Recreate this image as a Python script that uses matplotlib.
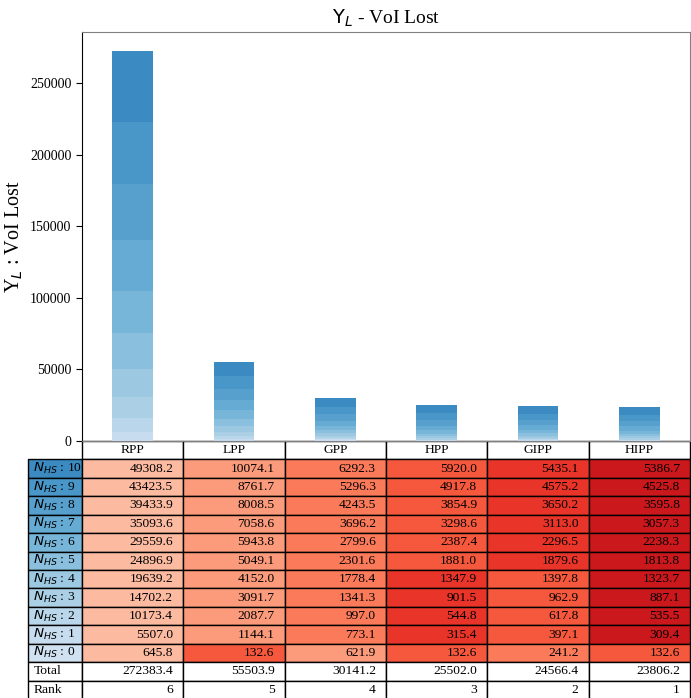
"""
Stacked VoI-lost bars with the per-N_HS breakdown table underneath.
"""

import numpy as np
import matplotlib
matplotlib.use('Agg')  # Non-interactive backend
import matplotlib.pyplot as plt
from matplotlib.table import Table

plt.rcParams['font.family'] = ['Liberation Serif', 'DejaVu Serif']
plt.rcParams['mathtext.fontset'] = 'dejavusans'

columns = ['RPP', 'LPP', 'GPP', 'HPP', 'GIPP', 'HIPP']
nhs_levels = [10, 9, 8, 7, 6, 5, 4, 3, 2, 1, 0]

# rows follow nhs_levels (N_HS = 10 at the top of the table)
vol_lost = [
    [49308.2, 10074.1, 6292.3, 5920.0, 5435.1, 5386.7],
    [43423.5, 8761.7, 5296.3, 4917.8, 4575.2, 4525.8],
    [39433.9, 8008.5, 4243.5, 3854.9, 3650.2, 3595.8],
    [35093.6, 7058.6, 3696.2, 3298.6, 3113.0, 3057.3],
    [29559.6, 5943.8, 2799.6, 2387.4, 2296.5, 2238.3],
    [24896.9, 5049.1, 2301.6, 1881.0, 1879.6, 1813.8],
    [19639.2, 4152.0, 1778.4, 1347.9, 1397.8, 1323.7],
    [14702.2, 3091.7, 1341.3, 901.5, 962.9, 887.1],
    [10173.4, 2087.7, 997.0, 544.8, 617.8, 535.5],
    [5507.0, 1144.1, 773.1, 315.4, 397.1, 309.4],
    [645.8, 132.6, 621.9, 132.6, 241.2, 132.6],
]
totals = [272383.4, 55503.9, 30141.2, 25502.0, 24566.4, 23806.2]
ranks = [6, 5, 4, 3, 2, 1]

data = np.array(vol_lost)
n_rows, n_cols = data.shape

# blue shades per N_HS level (light at N_HS=0, dark at N_HS=10)
blues = plt.cm.Blues(np.linspace(0.2, 0.65, n_rows))[::-1]
# red shades per rank within a row (lowest value -> darkest)
reds = plt.cm.Reds(np.linspace(0.75, 0.25, n_cols))

fig = plt.figure(figsize=(6.91, 6.98), dpi=100)
ax = fig.add_axes([82 / 691, 1 - 441 / 698, 608 / 691, 409 / 698])

x = np.arange(n_cols) + 0.5
bottom = np.zeros(n_cols)
for i in range(n_rows - 1, -1, -1):
    ax.bar(x, data[i], 0.4, bottom=bottom, color=blues[i], linewidth=0)
    bottom += data[i]

ax.set_xlim(0, n_cols)
ax.set_xticks([])
ax.tick_params(axis='y', labelsize=10, length=4)
ax.set_ylabel(r'Y$_L$ : VoI Lost', fontsize=14.5)
ax.set_title(r'$\mathrm{Y}_L$ - VoI Lost', fontsize=14)
for side in ['top', 'bottom', 'right']:
    ax.spines[side].set_color('gray')

# table contents
cell_text = [[f'{v:.1f}' for v in row] for row in vol_lost]
cell_text.append([f'{t:.1f}' for t in totals])
cell_text.append([str(r) for r in ranks])

cell_colours = []
for row in data:
    rank = (row[None, :] <= row[:, None]).sum(axis=1)  # ties share the max rank
    cell_colours.append([reds[r - 1] for r in rank])
cell_colours.append(['white'] * n_cols)
cell_colours.append(['white'] * n_cols)

row_labels = [rf'$N_{{HS}}$ : {n}' for n in nhs_levels] + ['Total', 'Rank']
row_colours = list(blues) + ['white', 'white']

label_w = 54 / 608
tbl_h = 258 / 409
cell_h = tbl_h / (len(row_labels) + 1)

# bbox only covers the data cells; the label column hangs off to the left
tbl = Table(ax, bbox=[0, -tbl_h, 1, tbl_h])
for c, name in enumerate(columns):
    tbl.add_cell(0, c, width=1 / n_cols, height=cell_h, text=name,
                 loc='center', facecolor='white')
for r, label in enumerate(row_labels):
    tbl.add_cell(r + 1, -1, width=label_w, height=cell_h, text=label,
                 loc='left', facecolor=row_colours[r])
    for c in range(n_cols):
        tbl.add_cell(r + 1, c, width=1 / n_cols, height=cell_h,
                     text=cell_text[r][c], loc='right',
                     facecolor=cell_colours[r][c])
tbl.auto_set_font_size(False)
tbl.set_fontsize(9.7)
ax.add_table(tbl)

plt.savefig('out.png', dpi=100)
plt.close()
